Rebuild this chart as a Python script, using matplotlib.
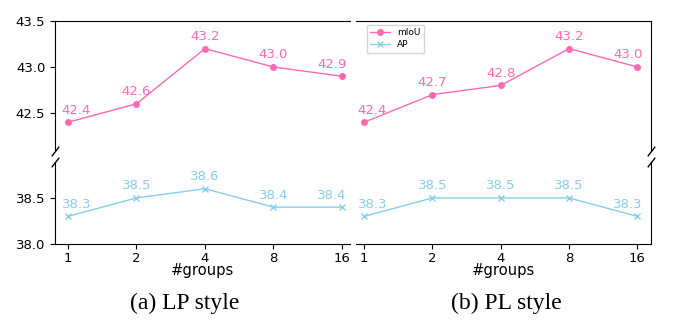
import matplotlib.pyplot as plt
from matplotlib.ticker import FormatStrFormatter

groups = ['1', '2', '4', '8', '16']
lp_miou = [42.4, 42.6, 43.2, 43.0, 42.9]
lp_ap = [38.3, 38.5, 38.6, 38.4, 38.4]
pl_miou = [42.4, 42.7, 42.8, 43.2, 43.0]
pl_ap = [38.3, 38.5, 38.5, 38.5, 38.3]
captions = ['(a) LP style', '(b) PL style']

PINK = '#ff69b4'
BLUE = '#87ceeb'
FS = 9.5

fig = plt.figure(figsize=(6.79, 3.3), dpi=100)

W, H = 679.0, 330.0
def box(x0, x1, y0, y1):
    # pixel box (y from top) -> figure fraction
    return [x0 / W, 1 - y1 / H, (x1 - x0) / W, (y1 - y0) / H]

panels = [
    (lp_miou, lp_ap, 55, 350, (-0.19, 4.12), 'left'),
    (pl_miou, pl_ap, 356, 651, (-0.12, 4.2), 'right'),
]

def label_points(ax, xs, ys, color):
    n = len(xs)
    for i, (x, y) in enumerate(zip(xs, ys)):
        dx = 0
        if i == 0:
            dx = 6
        elif i == n - 1:
            dx = -7
        ax.annotate(f'{y:.1f}', (x, y), xytext=(dx, 4), textcoords='offset points',
                    ha='center', va='bottom', color=color, fontsize=FS)

def break_mark(ax, x, y):
    ax.plot([x], [y], transform=ax.transAxes, marker=[(-1, -1.3), (1, 1.3)],
            markersize=7, linestyle='none', mec='k', mew=1, clip_on=False)

for k, (miou, ap, x0, x1, xl, side) in enumerate(panels):
    top = fig.add_axes(box(x0, x1, 21, 151))
    bot = fig.add_axes(box(x0, x1, 162, 244))
    xs = list(range(len(groups)))

    l1, = top.plot(xs, miou, color=PINK, marker='o', markersize=4, lw=1, label='mIoU')
    l2, = bot.plot(xs, ap, color=BLUE, marker='x', markersize=4, lw=1, label='AP')
    label_points(top, xs, miou, PINK)
    label_points(bot, xs, ap, BLUE)

    top.set_ylim(42.087, 43.5)
    bot.set_ylim(38.0, 38.89)
    top.set_yticks([42.5, 43.0, 43.5])
    bot.set_yticks([38.0, 38.5])
    for ax in (top, bot):
        ax.set_xlim(*xl)
        ax.yaxis.set_major_formatter(FormatStrFormatter('%.1f'))
        ax.tick_params(labelsize=FS)

    top.spines['bottom'].set_visible(False)
    bot.spines['top'].set_visible(False)
    top.tick_params(axis='x', bottom=False, labelbottom=False)
    bot.set_xticks(xs)
    bot.set_xticklabels(groups)
    bot.tick_params(axis='x', pad=2)
    bot.set_xlabel('#groups', fontsize=10.6, labelpad=-1)

    if side == 'left':
        for ax in (top, bot):
            ax.spines['right'].set_visible(False)
        break_mark(top, 0, 0)
        break_mark(bot, 0, 1)
    else:
        for ax in (top, bot):
            ax.spines['left'].set_visible(False)
            ax.tick_params(axis='y', left=False, labelleft=False)
        break_mark(top, 1, 0)
        break_mark(bot, 1, 1)
        top.legend([l1, l2], ['mIoU', 'AP'], loc='upper left', fontsize=6.5,
                   bbox_to_anchor=(0.03, 0.985), borderaxespad=0.2,
                   handlelength=2.2, labelspacing=0.3)

fig.text(185 / W, 1 - 303 / H, captions[0], ha='center', va='center',
         fontsize=17, family='Liberation Serif')
fig.text(506 / W, 1 - 303 / H, captions[1], ha='center', va='center',
         fontsize=17, family='Liberation Serif')

fig.savefig('out.png', dpi=100)
